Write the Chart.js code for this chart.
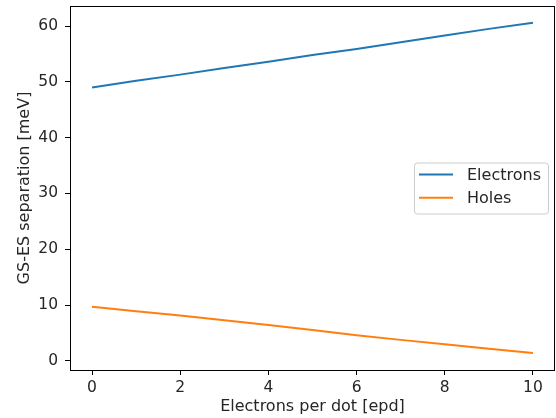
<!DOCTYPE html>
<html>
<head>
<meta charset="utf-8">
<script src="https://cdn.jsdelivr.net/npm/chart.js@4/dist/chart.umd.min.js"></script>
<style>
  html, body { margin: 0; padding: 0; background: #fff; }
  #wrap { width: 556px; height: 418px; }
</style>
</head>
<body>
<div id="wrap"><canvas id="gsChart" width="556" height="418"></canvas></div>
<script>
// Data
const epd = [0, 1, 2, 3, 4, 5, 6, 7, 8, 9, 10];
const electrons = [49.0, 50.2, 51.3, 52.5, 53.6, 54.8, 55.9, 57.1, 58.3, 59.5, 60.6];
const holes = [9.7, 8.9, 8.1, 7.25, 6.4, 5.5, 4.6, 3.75, 2.95, 2.15, 1.4];
const xTicks = [0, 2, 4, 6, 8, 10];
const yTicks = [0, 10, 20, 30, 40, 50, 60];

const FONT = 'DejaVu Sans';
const TEXT = '#262626';

function toPoints(ys) {
  return epd.map((x, i) => ({ x, y: ys[i] }));
}

// ── Moldura completa em volta da área do gráfico ──
const framePlugin = {
  id: 'frame',
  afterDraw(chart) {
    const { ctx, chartArea: a } = chart;
    ctx.save();
    ctx.strokeStyle = '#000';
    ctx.lineWidth = 1;
    ctx.strokeRect(Math.round(a.left) + 0.5, Math.round(a.top) + 0.5,
      Math.round(a.right - a.left) - 1, Math.round(a.bottom - a.top));
    ctx.restore();
  }
};

// ── Legenda no estilo matplotlib, dentro do gráfico à direita ──
const boxLegend = {
  id: 'boxLegend',
  afterDraw(chart) {
    const { ctx, chartArea: a } = chart;
    const sets = chart.data.datasets;
    const rowH = 23.3, boxW = 134, boxH = 51;
    const right = a.right - 7;
    const left = right - boxW;
    const top = (a.top + a.bottom) / 2 - boxH / 2;
    ctx.save();
    ctx.fillStyle = 'rgba(255,255,255,0.8)';
    ctx.strokeStyle = '#cccccc';
    ctx.lineWidth = 1;
    ctx.beginPath();
    ctx.roundRect(left + 0.5, top + 0.5, boxW, boxH, 3);
    ctx.fill();
    ctx.stroke();
    ctx.font = `16px "${FONT}"`;
    ctx.textBaseline = 'middle';
    sets.forEach((ds, i) => {
      const y = top + 12 + i * rowH;
      ctx.strokeStyle = ds.borderColor;
      ctx.lineWidth = 2;
      ctx.beginPath();
      ctx.moveTo(left + 5, y);
      ctx.lineTo(left + 39, y);
      ctx.stroke();
      ctx.fillStyle = TEXT;
      ctx.fillText(ds.label, left + 53, y + 1);
    });
    ctx.restore();
  }
};

new Chart(document.getElementById('gsChart'), {
  type: 'line',
  data: {
    datasets: [
      { label: 'Electrons', data: toPoints(electrons), borderColor: '#1f77b4', borderWidth: 2, pointRadius: 0, tension: 0 },
      { label: 'Holes', data: toPoints(holes), borderColor: '#ff7f0e', borderWidth: 2, pointRadius: 0, tension: 0 },
    ],
  },
  options: {
    responsive: false,
    animation: false,
    layout: { padding: { top: 6, right: 1, left: 0, bottom: 0 } },
    plugins: { legend: { display: false }, tooltip: { enabled: false } },
    scales: {
      x: {
        type: 'linear',
        min: -0.5,
        max: 10.5,
        afterBuildTicks: s => { s.ticks = xTicks.map(v => ({ value: v })); },
        afterFit: s => { s.height = 48; s.paddingLeft = 0; s.paddingRight = 0; },
        grid: { drawOnChartArea: false, tickLength: 5, tickColor: '#000' },
        border: { display: false },
        ticks: { color: TEXT, font: { family: FONT, size: 15.5 }, padding: 4, maxRotation: 0 },
        title: { display: true, text: 'Electrons per dot [epd]', color: TEXT, font: { family: FONT, size: 16 }, padding: { top: 0, bottom: 2 } },
      },
      y: {
        min: -1.65,
        max: 63.6,
        afterBuildTicks: s => { s.ticks = yTicks.map(v => ({ value: v })); },
        afterFit: s => { s.width = 70; s.paddingTop = 0; s.paddingBottom = 0; },
        grid: { drawOnChartArea: false, tickLength: 5, tickColor: '#000' },
        border: { display: false },
        ticks: { color: TEXT, font: { family: FONT, size: 15.5 }, padding: 7 },
        title: { display: true, text: 'GS-ES separation [meV]', color: TEXT, font: { family: FONT, size: 16 }, padding: { top: 15, bottom: 0 } },
      },
    },
  },
  plugins: [framePlugin, boxLegend],
});
</script>
</body>
</html>
